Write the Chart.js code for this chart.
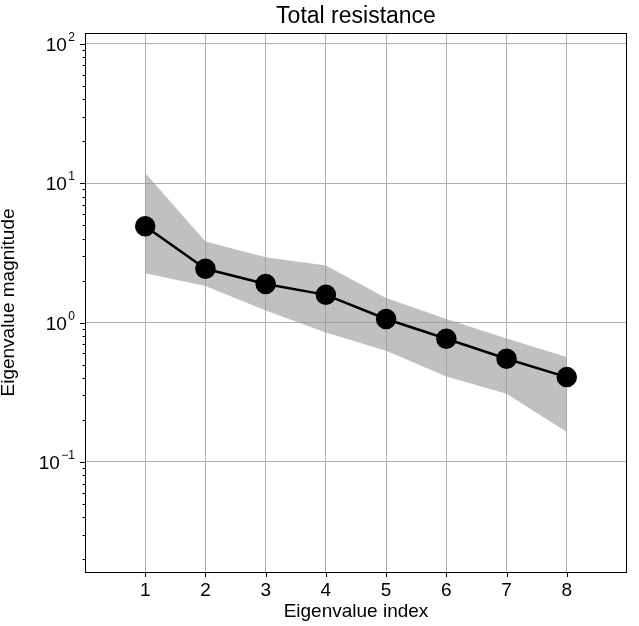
<!DOCTYPE html>
<html>
<head>
<meta charset="utf-8">
<script src="https://cdn.jsdelivr.net/npm/chart.js@4.4.0/dist/chart.umd.min.js"></script>
<style>
  html, body { margin: 0; padding: 0; background: #fff; }
  #wrap { width: 639px; height: 626px; position: relative; }
</style>
</head>
<body>
<div id="wrap"><canvas id="eigChart"></canvas></div>
<script>
// eigenvalue spectrum
const eigIndex = [1, 2, 3, 4, 5, 6, 7, 8];
const eigMean  = [4.9, 2.43, 1.89, 1.58, 1.06, 0.765, 0.55, 0.406];
const eigUpper = [11.8, 3.81, 2.94, 2.56, 1.50, 1.06, 0.768, 0.565];
const eigLower = [2.26, 1.83, 1.22, 0.848, 0.627, 0.41, 0.308, 0.164];

const yMajor = [0.1, 1, 10, 100];
const yMajorExp = ['\u22121', '0', '1', '2'];
const yMinor = [0.02, 0.03, 0.04, 0.05, 0.06, 0.07, 0.08, 0.09,
                0.2, 0.3, 0.4, 0.5, 0.6, 0.7, 0.8, 0.9,
                2, 3, 4, 5, 6, 7, 8, 9,
                20, 30, 40, 50, 60, 70, 80, 90];

const FONT = '"Liberation Sans", Arial, sans-serif';
const GRID = '#b0b0b0';

const pts = vals => eigIndex.map((x, i) => ({ x: x, y: vals[i] }));

// frame, tick marks, y tick labels with exponents, titles
const decorPlugin = {
    id: 'decor',
    afterDraw(chart) {
        const c = chart.ctx;
        const a = chart.chartArea;
        const xs = chart.scales.x, ys = chart.scales.y;
        c.save();
        c.strokeStyle = '#000';
        c.lineWidth = 1;

        // y ticks, long for decades and short for the minor ones
        const yTick = (v, len) => {
            const py = Math.round(ys.getPixelForValue(v)) + 0.5;
            c.beginPath();
            c.moveTo(a.left - len, py);
            c.lineTo(a.left, py);
            c.stroke();
        };
        yMinor.forEach(v => yTick(v, 2.5));
        yMajor.forEach(v => yTick(v, 5));
        // x ticks
        eigIndex.forEach(v => {
            const px = Math.round(xs.getPixelForValue(v)) + 0.5;
            c.beginPath();
            c.moveTo(px, a.bottom);
            c.lineTo(px, a.bottom + 5);
            c.stroke();
        });
        // frame
        c.strokeRect(Math.round(a.left) + 0.5, Math.round(a.top) + 0.5,
                     Math.round(a.right - a.left) - 1, Math.round(a.bottom - a.top));

        // y tick labels: 10 with superscript exponent
        c.fillStyle = '#000';
        c.textBaseline = 'alphabetic';
        c.textAlign = 'right';
        yMajor.forEach((v, i) => {
            const py = ys.getPixelForValue(v);
            const right = a.left - 10;
            c.font = '12px ' + FONT;
            const expW = c.measureText(yMajorExp[i]).width;
            c.fillText(yMajorExp[i], right, py - 3);
            c.font = '19px ' + FONT;
            c.fillText('10', right - expW - 1.5, py + 7);
        });

        // title
        c.textAlign = 'center';
        c.textBaseline = 'middle';
        c.font = '23px ' + FONT;
        c.fillText('Total resistance', (a.left + a.right) / 2, 17);

        // axis titles
        c.font = '19px ' + FONT;
        c.fillText('Eigenvalue index', (a.left + a.right) / 2, 612);
        c.translate(9, (a.top + a.bottom) / 2);
        c.rotate(-Math.PI / 2);
        c.fillText('Eigenvalue magnitude', 0, 0);
        c.restore();
    }
};

new Chart(document.getElementById('eigChart').getContext('2d'), {
    type: 'line',
    data: {
        datasets: [{
            label: 'lower',
            data: pts(eigLower),
            borderWidth: 0,
            pointRadius: 0,
            fill: false,
            order: 2
        }, {
            label: 'upper',
            data: pts(eigUpper),
            borderWidth: 0,
            pointRadius: 0,
            fill: '-1',
            backgroundColor: 'rgba(150, 150, 150, 0.6)',
            order: 1
        }, {
            label: 'mean',
            data: pts(eigMean),
            borderColor: '#000',
            borderWidth: 2.5,
            pointRadius: 9,
            pointBackgroundColor: '#000',
            pointBorderColor: '#000',
            fill: false,
            order: 0
        }]
    },
    options: {
        responsive: true,
        maintainAspectRatio: false,
        animation: false,
        layout: { padding: { top: 33, right: 12, left: 0, bottom: 0 } },
        plugins: {
            legend: { display: false },
            tooltip: { enabled: false },
            title: { display: false }
        },
        scales: {
            x: {
                type: 'linear',
                min: 0,
                max: 9,
                afterFit: s => { s.height = 54; },
                border: { display: false },
                grid: {
                    drawTicks: false,
                    color: ctx => (ctx.tick && ctx.tick.value >= 1 && ctx.tick.value <= 8) ? GRID : 'rgba(0,0,0,0)'
                },
                ticks: {
                    stepSize: 1,
                    padding: 7,
                    color: '#000',
                    font: { family: FONT, size: 19 },
                    maxRotation: 0,
                    callback: v => (v >= 1 && v <= 8) ? String(v) : ''
                }
            },
            y: {
                type: 'logarithmic',
                min: 0.01625,
                max: 119.3,
                afterFit: s => { s.width = 85; },
                afterBuildTicks: s => {
                    s.ticks = yMajor.map(v => ({ value: v }));
                },
                border: { display: false },
                grid: {
                    drawTicks: false,
                    color: GRID
                },
                ticks: {
                    callback: () => ''
                }
            }
        }
    },
    plugins: [decorPlugin]
});
</script>
</body>
</html>
